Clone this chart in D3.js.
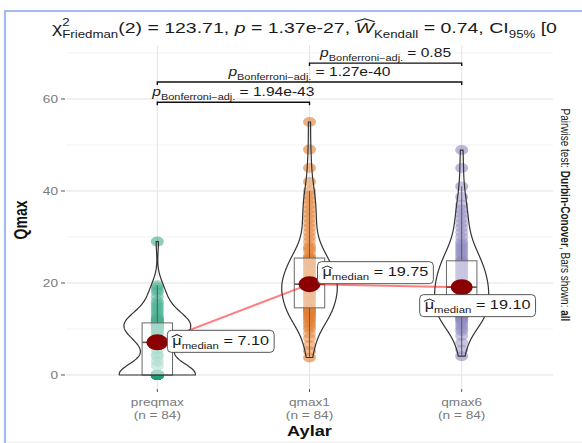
<!DOCTYPE html>
<html>
<head>
<meta charset="utf-8">
<script src="https://cdn.jsdelivr.net/npm/d3@7"></script>
<style>
body { margin: 0; background: #fff; }
text { font-family: "Liberation Sans", Arial, sans-serif; white-space: pre; }
</style>
</head>
<body>
<div id="chart"></div>
<script>

// data
var groups = ["preqmax", "qmax1", "qmax6"];
var groupColors = ["#1B9E77", "#D95F02", "#7570B3"];
var nLabels = ["(n = 84)", "(n = 84)", "(n = 84)"];

var preqmax = [0,0,0,0,0,0,0,0,0,0,0,0,0,0,0,0,0,0,0,0,0,0,0,0,0,0,0,0,0,0,0,0,
  2,3,4,4.5,5.5,6.5,7,7.1,7.1,7.1,
  7.1,8,8.5,9,9,9.5,9.5,10,10,10,10.2,10.4,10.5,10.6,10.8,11,11,11,11.1,11.2,11.3,11.4,
  11.5,11.6,11.8,12,12,12.2,12.5,13,13.5,14,14.5,15,15.5,16,17,18,18.5,19,19.5,29];
var qmax1 = [3.8,5.2,6.5,8,9,10,10.5,11,11.5,12,12.3,12.6,13,13.2,13.5,13.8,14,14.2,14.3,14.5,
  14.6,14.6,15,15.5,16,16.2,16.5,17,17,17.5,17.8,18,18.2,18.5,18.8,19,19,19.2,19.4,19.5,
  19.6,19.7,19.8,20,20.3,20.5,21,21,21.5,22,22,22.5,23,23,23.5,24,24,24.3,24.5,24.8,
  25,25.2,25.4,25.5,26,27,27.5,28,29,30,31,32,33,34,35,36,37,38,39,40,42,45,49,55];
var qmax6 = [4.1,5.5,7,8.5,9.5,10,10.5,11,11.5,12,12,12.3,12.5,12.8,13,13,13.2,13.3,13.4,13.5,
  13.5,13.6,14,14.5,15,15.3,15.6,16,16.2,16.5,16.8,17,17.2,17.5,17.8,18,18.2,18.5,18.7,18.9,
  19,19,19.2,19.5,19.8,20,20.3,20.6,21,21.3,21.6,22,22.2,22.5,22.8,23,23.3,23.6,24,24.2,
  24.5,24.6,24.8,24.9,25.5,26,26.5,27,27.5,28,28.5,29,30,31,32,33,34,35,36,37,38.7,41,45,48.9];
var groupValues = [preqmax, qmax1, qmax6];

var medianLabels = ["7.10", "19.75", "19.10"];
var yTicks = [0, 20, 40, 60];
var yMinor = [10, 30, 50, 70];

var pairs = [["preqmax", "qmax1"], ["preqmax", "qmax6"], ["qmax1", "qmax6"]];
var pairP = ["1.94e-43", "1.27e-40", "0.85"];
var pairY = [59.3, 63.7, 67.8];

var W = 582, H = 443;
var SX = 1.3; // the picture is stretched sideways

var svg = d3.select("#chart").append("svg")
  .attr("width", W)
  .attr("height", H);

svg.append("rect").attr("width", W).attr("height", H).attr("fill", "#fff");

var panel = {left: 66, right: 553, top: 45, bottom: 389};

var x = d3.scalePoint().domain(groups).range([panel.left, panel.right]).padding(0.6);
var y = d3.scaleLinear().domain([0, 60]).range([375, 99]);
var step = x.step();

// text with sub / superscripts, pieces laid side by side
function rich(parent, segs, size, anchor) {
  var g = parent.append("g");
  var inner = g.append("g");
  var cx = 0;
  segs.forEach(function(s) {
    var small = s.sub || s.sup;
    var fs = small ? size * (s.scale || 0.68) : size;
    var t = inner.append("text")
      .attr("x", cx)
      .attr("y", s.sub ? size * 0.3 : s.sup ? -size * 0.48 : 0)
      .attr("font-size", fs)
      .attr("fill", s.color || "#1a1a1a")
      .style("font-style", s.it ? "italic" : null)
      .style("font-weight", s.b ? "bold" : null)
      .text(s.t);
    var w = t.node().getComputedTextLength();
    if (s.hat) {
      var hy = -size * s.hat;
      inner.append("path")
        .attr("d", "M" + (cx - 0.5) + "," + (hy + size * 0.2) + "L" + (cx + w / 2) + "," + hy + "L" + (cx + w + 0.5) + "," + (hy + size * 0.2))
        .attr("fill", "none").attr("stroke", "#1a1a1a").attr("stroke-width", size * 0.07);
    }
    if (!s.keep) cx += w;
  });
  var off = anchor == "middle" ? -cx / 2 : anchor == "end" ? -cx : 0;
  inner.attr("transform", "translate(" + off + ",0)");
  return {g: g, width: cx};
}

// frame of the screenshot
svg.append("path")
  .attr("d", "M5," + H + "V11H" + W)
  .attr("fill", "none").attr("stroke", "#a3bcec").attr("stroke-width", 2.2);
svg.append("line").attr("x1", 6).attr("x2", W).attr("y1", 442).attr("y2", 442)
  .attr("stroke", "#ececec");

// grid
var grid = svg.append("g");
grid.selectAll(".minor").data(yMinor).enter().append("line")
  .attr("x1", panel.left).attr("x2", panel.right)
  .attr("y1", function(d) { return y(d); }).attr("y2", function(d) { return y(d); })
  .attr("stroke", "#efefef").attr("stroke-width", 0.8);
grid.selectAll(".major").data(yTicks).enter().append("line")
  .attr("x1", panel.left).attr("x2", panel.right)
  .attr("y1", function(d) { return y(d); }).attr("y2", function(d) { return y(d); })
  .attr("stroke", "#e3e3e3").attr("stroke-width", 1);
grid.selectAll(".vert").data(groups).enter().append("line")
  .attr("x1", function(d) { return x(d); }).attr("x2", function(d) { return x(d); })
  .attr("y1", panel.top).attr("y2", panel.bottom)
  .attr("stroke", "#e3e3e3").attr("stroke-width", 1);

// y axis
var yAx = svg.append("g");
yTicks.forEach(function(v) {
  yAx.append("line").attr("x1", 61).attr("x2", 65).attr("y1", y(v)).attr("y2", y(v))
    .attr("stroke", "#555").attr("stroke-width", 1);
  yAx.append("text")
    .attr("transform", "translate(58," + (y(v) + 4) + ") scale(" + SX + ",1)")
    .attr("text-anchor", "end").attr("font-size", 10.5).attr("fill", "#7a7a7a")
    .text(v);
});
svg.append("text")
  .attr("transform", "translate(27," + ((panel.top + panel.bottom) / 2 + 3) + ") scale(" + SX + ",1) rotate(-90)")
  .attr("text-anchor", "middle").attr("font-size", 14).attr("font-weight", "bold").attr("fill", "#111")
  .text("Qmax");

// x axis
groups.forEach(function(gname, i) {
  svg.append("line").attr("x1", x(gname)).attr("x2", x(gname)).attr("y1", panel.bottom).attr("y2", panel.bottom + 3)
    .attr("stroke", "#555");
  svg.append("text")
    .attr("transform", "translate(" + x(gname) + ",406) scale(" + SX + ",1)")
    .attr("text-anchor", "middle").attr("font-size", 10.5).attr("fill", "#7a7a7a").text(gname);
  svg.append("text")
    .attr("transform", "translate(" + x(gname) + ",419) scale(" + SX + ",1)")
    .attr("text-anchor", "middle").attr("font-size", 10.5).attr("fill", "#7a7a7a").text(nLabels[i]);
});
svg.append("text")
  .attr("transform", "translate(" + x("qmax1") + ",436) scale(" + SX + ",1)")
  .attr("text-anchor", "middle").attr("font-size", 14).attr("font-weight", "bold").attr("fill", "#111")
  .text("Aylar");

// stats per group
function kde(values) {
  var n = values.length;
  var sd = d3.deviation(values);
  var iqr = d3.quantile(values, 0.75) - d3.quantile(values, 0.25);
  var bw = 0.9 * Math.min(sd, iqr / 1.34) * Math.pow(n, -0.2);
  var lo = d3.min(values), hi = d3.max(values);
  var pts = d3.range(512).map(function(i) { return lo + (hi - lo) * i / 511; });
  return pts.map(function(p) {
    var s = d3.sum(values, function(v) { var u = (p - v) / bw; return Math.exp(-0.5 * u * u); });
    return [p, s / (n * bw * Math.sqrt(2 * Math.PI))];
  });
}

var stats = groupValues.map(function(vals, i) {
  var sorted = vals.slice().sort(d3.ascending);
  var q1 = d3.quantile(sorted, 0.25), med = d3.quantile(sorted, 0.5), q3 = d3.quantile(sorted, 0.75);
  var iqr = q3 - q1;
  return {
    name: groups[i], color: groupColors[i], values: vals,
    q1: q1, med: med, q3: q3,
    lo: d3.min(sorted.filter(function(v) { return v >= q1 - 1.5 * iqr; })),
    hi: d3.max(sorted.filter(function(v) { return v <= q3 + 1.5 * iqr; })),
    dens: kde(sorted)
  };
});
var maxDens = d3.max(stats, function(s) { return d3.max(s.dens, function(d) { return d[1]; }); });

// points
stats.forEach(function(s) {
  svg.append("g").selectAll("ellipse").data(s.values).enter().append("ellipse")
    .attr("cx", x(s.name)).attr("cy", function(d) { return y(d); })
    .attr("rx", 6.5).attr("ry", 5)
    .attr("fill", s.color).attr("fill-opacity", 0.5);
});

// boxplots
var boxW = 0.2 * step;
stats.forEach(function(s) {
  var cx = x(s.name);
  var b = svg.append("g");
  b.append("line").attr("x1", cx).attr("x2", cx).attr("y1", y(s.q3)).attr("y2", y(s.hi)).attr("stroke", "#333").attr("stroke-width", 1);
  b.append("line").attr("x1", cx).attr("x2", cx).attr("y1", y(s.q1)).attr("y2", y(s.lo)).attr("stroke", "#333").attr("stroke-width", 1);
  b.append("rect").attr("x", cx - boxW / 2).attr("width", boxW)
    .attr("y", y(s.q3)).attr("height", y(s.q1) - y(s.q3))
    .attr("fill", "#fff").attr("fill-opacity", 0.5).attr("stroke", "#444").attr("stroke-width", 1);
  b.append("line").attr("x1", cx - boxW / 2).attr("x2", cx + boxW / 2).attr("y1", y(s.med)).attr("y2", y(s.med))
    .attr("stroke", "#333").attr("stroke-width", 1.6);
});

// violins
stats.forEach(function(s) {
  var cx = x(s.name);
  var half = function(d) { return d[1] / maxDens * 0.25 * step; };
  var area = d3.area()
    .y(function(d) { return y(d[0]); })
    .x0(function(d) { return cx - half(d); })
    .x1(function(d) { return cx + half(d); });
  svg.append("path").attr("d", area(s.dens))
    .attr("fill", "#fff").attr("fill-opacity", 0.2)
    .attr("stroke", "#333").attr("stroke-width", 1.2);
});

// median path and points
svg.append("path")
  .attr("d", d3.line().x(function(s) { return x(s.name); }).y(function(s) { return y(s.med); })(stats))
  .attr("fill", "none").attr("stroke", "#ff0000").attr("stroke-opacity", 0.5).attr("stroke-width", 2);
svg.selectAll(".medpt").data(stats).enter().append("ellipse")
  .attr("cx", function(s) { return x(s.name); }).attr("cy", function(s) { return y(s.med); })
  .attr("rx", 11).attr("ry", 8).attr("fill", "#8B0000");

// median labels (repelled positions: offsets from the point)
var labelOffsets = [[10, -1], [8, -11.5], [-42, 18.5]];
stats.forEach(function(s, i) {
  var lg = svg.append("g");
  var r = rich(lg, [
    {t: "\u03bc", hat: 0.82},
    {t: "median", sub: true, scale: 0.7},
    {t: " = " + medianLabels[i]}
  ], 12.5, "start");
  var pad = 5;
  var bw = r.width * SX + 2 * pad;
  var left = x(s.name) + labelOffsets[i][0];
  var cy = y(s.med) + labelOffsets[i][1];
  lg.insert("rect", ":first-child")
    .attr("x", left).attr("y", cy - 11).attr("width", bw).attr("height", 22)
    .attr("rx", 4).attr("fill", "#fff").attr("stroke", "#444").attr("stroke-width", 0.9);
  r.g.attr("transform", "translate(" + (left + pad) + "," + (cy + 3.5) + ") scale(" + SX + ",1)");
});

// pairwise brackets
pairs.forEach(function(p, i) {
  var x1 = x(p[0]), x2 = x(p[1]), yy = y(pairY[i]);
  svg.append("path")
    .attr("d", "M" + x1 + "," + (yy + 3) + "V" + yy + "H" + x2 + "V" + (yy + 3))
    .attr("fill", "none").attr("stroke", "#111").attr("stroke-width", 1.4);
  var r = rich(svg, [
    {t: "p", it: true},
    {t: "Bonferroni\u2212adj.", sub: true, scale: 0.7},
    {t: " = " + pairP[i]}
  ], 12, "middle");
  r.g.attr("transform", "translate(" + ((x1 + x2) / 2) + "," + (yy - 6) + ") scale(" + SX + ",1)");
});

// subtitle
var sub = rich(svg, [
  {t: "\u03c7"},
  {t: "2", sup: true, keep: true},
  {t: "Friedman", sub: true},
  {t: "(2) = 123.71, "},
  {t: "p", it: true},
  {t: " = 1.37e-27, "},
  {t: "W", it: true, hat: 0.95},
  {t: "Kendall", sub: true},
  {t: " = 0.74, CI"},
  {t: "95%", sub: true},
  {t: " [0"}
], 15, "start");
sub.g.attr("transform", "translate(52,33) scale(" + SX + ",1)");

// caption on the right
var cap = rich(svg, [
  {t: "Pairwise test: "},
  {t: "Durbin-Conover", b: true},
  {t: ", Bars shown: "},
  {t: "all", b: true}
], 10, "middle");
cap.g.attr("transform", "translate(561," + ((panel.top + panel.bottom) / 2 - 2) + ") scale(" + SX + ",1) rotate(90)");

</script>
</body>
</html>
